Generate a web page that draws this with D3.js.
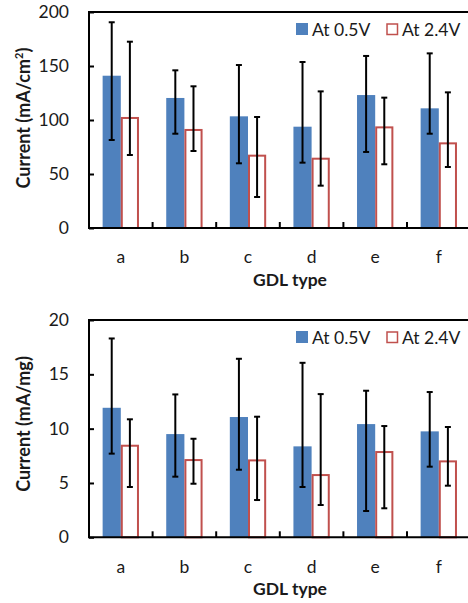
<!DOCTYPE html>
<html><head><meta charset="utf-8">
<script src="https://cdn.jsdelivr.net/npm/d3@7"></script>
<style>
html,body{margin:0;padding:0;background:#fff;}
svg{display:block;}
text{font-family:Lato,"Open Sans",sans-serif;fill:#1a1a1a;}
</style></head>
<body>
<svg id="chart" width="468" height="603"></svg>
<script>
const categories = ['a','b','c','d','e','f'];
const seriesNames = ['At 0.5V','At 2.4V'];

// Top chart: current density (mA/cm²)
const area05 = [141, 120.4, 103.4, 93.8, 123.1, 110.8];
const area05Hi = [190.5, 146, 150.9, 153.7, 159.3, 161.7];
const area05Lo = [81.5, 87.3, 59.9, 60.5, 70.4, 87.3];
const area24 = [102.8, 91.7, 67.9, 65.1, 94.1, 79.3];
const area24Hi = [172.5, 131.2, 102.8, 126.5, 120.7, 125.6];
const area24Lo = [67.6, 71.3, 28.7, 39.2, 59, 56.5];
const areaTicks = [0, 50, 100, 150, 200];

// Bottom chart: mass activity (mA/mg)
const mass05 = [11.92, 9.5, 11.07, 8.37, 10.42, 9.75];
const mass05Hi = [18.3, 13.15, 16.43, 16.06, 13.49, 13.37];
const mass05Lo = [7.7, 5.58, 6.22, 4.63, 2.42, 6.5];
const mass24 = [8.52, 7.2, 7.17, 5.82, 7.94, 7.08];
const mass24Hi = [10.86, 9.07, 11.1, 13.18, 10.24, 10.15];
const mass24Lo = [4.63, 4.93, 3.43, 2.97, 2.67, 4.75];
const massTicks = [0, 5, 10, 15, 20];

const BLUE = '#4F81BD', RED = '#C0504D';
const svg = d3.select('#chart');

function drawChart(cfg) {
  const g = svg.append('g');
  const x = d3.scaleBand().domain(categories).range([cfg.left, cfg.right]).padding(0);
  const y = d3.scaleLinear().domain([0, cfg.max]).range([cfg.bottom, cfg.top]);
  const bw = x.bandwidth() / 3.5;
  const sub = d3.scaleOrdinal().domain([0, 1]).range([0.75 * bw, 1.75 * bw]);

  const series = [
    {v: cfg.s05, hi: cfg.s05Hi, lo: cfg.s05Lo, idx: 0},
    {v: cfg.s24, hi: cfg.s24Hi, lo: cfg.s24Lo, idx: 1}
  ];

  // bars
  series.forEach(s => {
    g.append('g').selectAll('rect').data(categories).join('rect')
      .attr('x', (c, i) => x(c) + sub(s.idx) + (s.idx ? 1 : 0))
      .attr('y', (c, i) => y(s.v[i]) + (s.idx ? 1 : 0))
      .attr('width', bw - (s.idx ? 2 : 0))
      .attr('height', (c, i) => y(0) - y(s.v[i]) - (s.idx ? 1 : 0))
      .attr('fill', s.idx ? '#fff' : BLUE)
      .attr('stroke', s.idx ? RED : 'none')
      .attr('stroke-width', s.idx ? 2 : 0);
  });

  // error bars
  series.forEach(s => {
    const eg = g.append('g').attr('stroke', '#000').attr('stroke-width', 2);
    categories.forEach((c, i) => {
      const cx = x(c) + sub(s.idx) + bw / 2;
      eg.append('line').attr('x1', cx).attr('x2', cx).attr('y1', y(s.hi[i])).attr('y2', y(s.lo[i]));
      [s.hi[i], s.lo[i]].forEach(v => {
        eg.append('line').attr('x1', cx - 3).attr('x2', cx + 3).attr('y1', y(v)).attr('y2', y(v));
      });
    });
  });

  // y axis
  const ya = d3.axisLeft(y).tickValues(cfg.ticks).tickSizeInner(-5).tickSizeOuter(0).tickPadding(20);
  const yg = g.append('g').attr('transform', `translate(${cfg.left},0)`).call(ya);
  yg.select('.domain').remove();
  yg.selectAll('line').attr('stroke', '#000').attr('stroke-width', 2);
  yg.selectAll('text').attr('font-size', 17.5).style('font-family', 'Lato').attr('fill', '#1a1a1a');

  // x axis labels
  const xa = d3.axisBottom(x).tickSize(0).tickPadding(23);
  const xg = g.append('g').attr('transform', `translate(0,${cfg.bottom})`).call(xa);
  xg.select('.domain').remove();
  xg.selectAll('text').attr('font-size', 17.5).style('font-family', 'Lato').attr('fill', '#1a1a1a');

  // category boundary ticks (inward)
  g.append('g').selectAll('line').data(categories.slice(1)).join('line')
    .attr('x1', c => x(c)).attr('x2', c => x(c))
    .attr('y1', cfg.bottom).attr('y2', cfg.bottom - 6)
    .attr('stroke', '#000').attr('stroke-width', 2);

  // frame: left, top, bottom
  g.append('path')
    .attr('d', `M${cfg.right + 5},${cfg.top}H${cfg.left}V${cfg.bottom}H${cfg.right + 5}`)
    .attr('fill', 'none').attr('stroke', '#000').attr('stroke-width', 2);

  // titles
  g.append('text')
    .attr('transform', `translate(${29.5},${cfg.ytitleY}) rotate(-90)`)
    .attr('text-anchor', 'middle').attr('font-size', 18).attr('font-weight', 'bold')
    .html(cfg.ytitle);
  g.append('text').attr('x', 290).attr('y', cfg.bottom + 58)
    .attr('text-anchor', 'middle').attr('font-size', 17.5).attr('font-weight', 'bold')
    .text('GDL type');

  // legend
  const lg = g.append('g').attr('transform', `translate(0,${cfg.top})`);
  lg.append('rect').attr('x', 296).attr('y', 11).attr('width', 12).attr('height', 12).attr('fill', BLUE);
  lg.append('text').attr('x', 312).attr('y', 23.5).attr('font-size', 17.5).text(seriesNames[0]);
  lg.append('rect').attr('x', 387).attr('y', 12).attr('width', 10.5).attr('height', 10.5)
    .attr('fill', '#fff').attr('stroke', RED).attr('stroke-width', 1.5);
  lg.append('text').attr('x', 402).attr('y', 23.5).attr('font-size', 17.5).text(seriesNames[1]);
}

drawChart({left: 89, right: 470.6, top: 12, bottom: 228, max: 200, ticks: areaTicks,
  s05: area05, s05Hi: area05Hi, s05Lo: area05Lo, s24: area24, s24Hi: area24Hi, s24Lo: area24Lo,
  ytitle: 'Current (mA/cm<tspan dy="-7" font-size="11">2</tspan><tspan dy="7">)</tspan>', ytitleY: 118});
drawChart({left: 89, right: 470.6, top: 320, bottom: 537.3, max: 20, ticks: massTicks,
  s05: mass05, s05Hi: mass05Hi, s05Lo: mass05Lo, s24: mass24, s24Hi: mass24Hi, s24Lo: mass24Lo,
  ytitle: 'Current (mA/mg)', ytitleY: 424});
</script>
</body></html>
